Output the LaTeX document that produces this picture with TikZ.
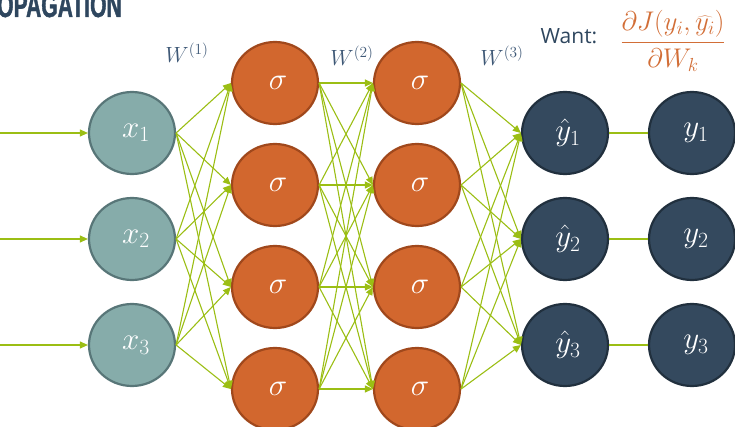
\documentclass[tikz,border=0pt]{standalone}
\usepackage{fix-cm}
\usepackage{fontspec}
\setmainfont{Open Sans}
\newfontfamily\titlefont[FakeStretch=0.62,FakeBold=1.2]{Liberation Sans}
\usetikzlibrary{shapes.geometric,arrows.meta}

\definecolor{infill}{RGB}{134,172,170}
\definecolor{inborder}{RGB}{88,118,120}
\definecolor{hidfill}{RGB}{210,103,46}
\definecolor{hidborder}{RGB}{160,72,28}
\definecolor{outfill}{RGB}{52,73,94}
\definecolor{outborder}{RGB}{33,48,62}
\definecolor{edgegreen}{RGB}{155,190,20}
\definecolor{wlabel}{RGB}{62,88,118}
\definecolor{titleblue}{RGB}{46,70,94}
\definecolor{fracorange}{RGB}{210,110,55}

\tikzset{
  neuron/.style={ellipse, minimum width=86pt, minimum height=82pt, line width=2.2pt,
                 inner sep=0pt, text=white, font=\fontsize{31}{36}\selectfont},
  inputnode/.style={neuron, fill=infill, draw=inborder},
  hiddennode/.style={neuron, fill=hidfill, draw=hidborder},
  outputnode/.style={neuron, fill=outfill, draw=outborder},
  wire/.style={draw=edgegreen, line width=1.1pt, -{Triangle[length=8pt,width=7pt]}},
  plainwire/.style={draw=edgegreen, line width=1.4pt},
  weightlabel/.style={text=wlabel, font=\fontsize{22}{26}\selectfont},
}

\begin{document}
\begin{tikzpicture}[x=1pt,y=-1pt]
\useasboundingbox (0,0) rectangle (735,427);

% heading
\node[anchor=base west, inner sep=0pt, text=titleblue, font=\titlefont\bfseries\fontsize{34}{34}\selectfont]
  (title) at (-3,17) {OPAGATION};

% input layer
\foreach \i/\y in {1/133,2/239,3/345} {
  \node[inputnode] (x\i) at (132,\y) {\hspace{8pt}$x_{\i}$};
  \coordinate (in\i) at (0,\y);
}
% hidden layers
\foreach \i/\y in {1/83,2/185,3/287,4/389} {
  \node[hiddennode] (a\i) at (275,\y) {\hspace{6pt}$\sigma$};
  \node[hiddennode] (b\i) at (417,\y) {\hspace{6pt}$\sigma$};
}
% predictions and targets
\foreach \i/\y in {1/133,2/239,3/345} {
  \node[outputnode] (p\i) at (565,\y) {\hspace{6pt}$\hat{y}_{\i}$};
  \node[outputnode] (t\i) at (692,\y) {\hspace{8pt}$y_{\i}$};
}

% connections
\foreach \i in {1,2,3} {
  \draw[wire] (in\i) -- (x\i.west);
  \foreach \j in {1,2,3,4}
    \draw[wire] (x\i.east) -- (a\j.west);
}
\foreach \i in {1,2,3,4}
  \foreach \j in {1,2,3,4}
    \draw[wire] (a\i.east) -- (b\j.west);
\foreach \i in {1,2,3,4}
  \foreach \j in {1,2,3}
    \draw[wire] (b\i.east) -- (p\j.west);
\foreach \i in {1,2,3}
  \draw[plainwire] (p\i.east) -- (t\i.west);

% weight labels
\node[weightlabel] (w1) at (187,53) {$W^{(1)}$};
\node[weightlabel] (w2) at (352,56) {$W^{(2)}$};
\node[weightlabel] (w3) at (502,56) {$W^{(3)}$};

% objective
\node[text=titleblue, font=\fontsize{21}{25}\selectfont] (want) at (569,36) {Want:};
\node[text=fracorange, font=\fontsize{27}{32}\selectfont] (grad) at (673,41)
  {$\displaystyle\frac{\partial J(y_i,\widehat{y_i})}{\partial W_k}$};
\end{tikzpicture}
\end{document}
